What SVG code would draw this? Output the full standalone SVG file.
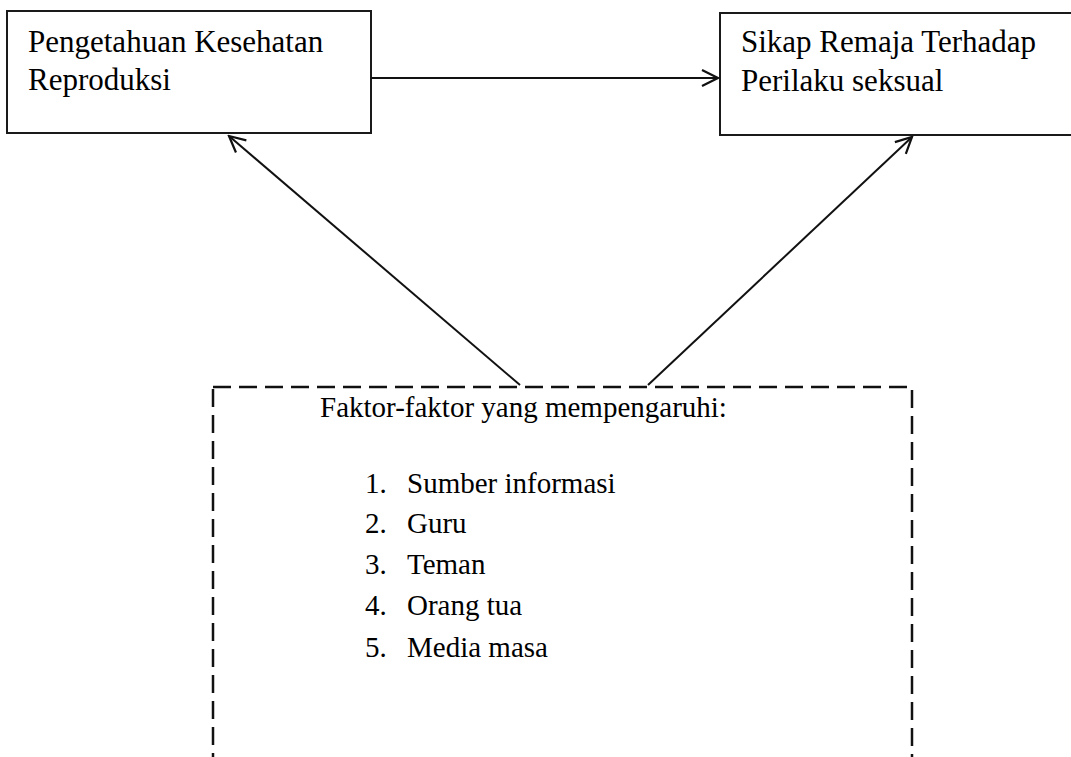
<svg xmlns="http://www.w3.org/2000/svg" width="1071" height="757" viewBox="0 0 1071 757">
<style>
  .box { fill: #fff; stroke: #1a1a1a; stroke-width: 2; }
  .dash { fill: none; stroke: #111; stroke-width: 2.5; stroke-dasharray: 18 8; }
  .t { font-family: "Liberation Serif", "Times New Roman", serif; fill: #000; }
  .big { font-size: 31px; }
  .mid { font-size: 29px; }
  .conn { stroke: #111; stroke-width: 2; fill: none; }
</style>
<defs>
  <marker id="arr" viewBox="0 0 20 20" refX="18" refY="10" markerWidth="20" markerHeight="20" markerUnits="userSpaceOnUse" orient="auto">
    <path d="M2,2 L18,10 L2,18" fill="none" stroke="#111" stroke-width="2.2"/>
  </marker>
</defs>
<rect width="1071" height="757" fill="#fff"/>
<g id="node-pengetahuan">
  <rect class="box" x="7" y="11" width="364" height="122"/>
  <text class="t big" x="28" y="52">Pengetahuan Kesehatan</text>
  <text class="t big" x="28" y="90">Reproduksi</text>
</g>
<g id="node-sikap">
  <rect class="box" x="720" y="13" width="360" height="122"/>
  <text class="t big" x="741" y="52">Sikap Remaja Terhadap</text>
  <text class="t big" x="741" y="91">Perilaku seksual</text>
</g>
<g id="node-faktor">
  <rect class="dash" x="213" y="387" width="699" height="390"/>
  <text class="t mid" x="320" y="417">Faktor-faktor yang mempengaruhi:</text>
  <text class="t mid" x="365" y="493">1.</text><text class="t mid" x="407" y="493">Sumber informasi</text>
  <text class="t mid" x="365" y="533">2.</text><text class="t mid" x="407" y="533">Guru</text>
  <text class="t mid" x="365" y="574">3.</text><text class="t mid" x="407" y="574">Teman</text>
  <text class="t mid" x="365" y="615">4.</text><text class="t mid" x="407" y="615">Orang tua</text>
  <text class="t mid" x="365" y="657">5.</text><text class="t mid" x="407" y="657">Media masa</text>
</g>
<g id="connectors">
  <line class="conn" x1="371" y1="78" x2="718" y2="78" marker-end="url(#arr)"/>
  <line class="conn" x1="520" y1="385" x2="229" y2="136" marker-end="url(#arr)"/>
  <line class="conn" x1="648" y1="385" x2="912" y2="137" marker-end="url(#arr)"/>
</g>
</svg>
